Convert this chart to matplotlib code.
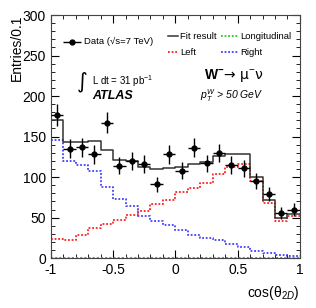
import numpy as np
import matplotlib
matplotlib.use("Agg")
from matplotlib import pyplot as plt
from matplotlib.ticker import MultipleLocator

plt.rcParams["font.family"] = ["Liberation Sans", "DejaVu Sans"]
plt.rcParams["mathtext.fontset"] = "custom"
plt.rcParams["mathtext.rm"] = "Liberation Sans"
plt.rcParams["mathtext.it"] = "Liberation Sans:italic"
plt.rcParams["mathtext.bf"] = "Liberation Sans:bold"

# cos(theta_2D) binning, 20 bins of 0.1
bin_edges = np.round(np.arange(-1.0, 1.0001, 0.1), 2)
data = [177, 135, 137, 128, 167, 114, 120, 116, 91, 128,
        108, 136, 117, 130, 115, 111, 95, 79, 56, 60]
fit_result = [171, 143, 143, 145, 133, 121, 120, 112, 110, 111,
              113, 116, 119, 126, 128, 128, 100, 72, 49, 55]
left = [24, 22, 28, 37, 42, 47, 53, 58, 67, 72,
        82, 86, 93, 104, 112, 116, 95, 68, 46, 52]
right = [146, 120, 115, 107, 88, 73, 64, 52, 46, 41,
         35, 29, 25, 22, 18, 14, 9, 6, 4, 3]
longitudinal = [0] * 20

DOT = (0, (1, 1))


def step(ax, vals, **kw):
    v = list(vals) + [vals[-1]]
    return ax.step(bin_edges, v, where="post", **kw)


fig = plt.figure(figsize=(3.16, 3.08), dpi=100)
ax = fig.add_axes([0.161, 0.162, 0.788, 0.789])

centers = (bin_edges[:-1] + bin_edges[1:]) / 2
step(ax, right, color="#4040ff", linestyle=DOT, lw=1.3)
step(ax, left, color="#ff2020", linestyle=DOT, lw=1.3)
step(ax, longitudinal, color="#20d020", linestyle=DOT, lw=1.5, clip_on=False)
step(ax, fit_result, color="#333333", lw=1.1)
ax.errorbar(centers, data, xerr=0.05, yerr=np.sqrt(data), fmt="o", color="black",
            ms=3.5, elinewidth=1.0, capsize=0, zorder=5)

ax.set_xlim(-1, 1)
ax.set_ylim(0, 300)
ax.xaxis.set_major_locator(MultipleLocator(0.5))
ax.xaxis.set_minor_locator(MultipleLocator(0.1))
ax.yaxis.set_major_locator(MultipleLocator(50))
ax.yaxis.set_minor_locator(MultipleLocator(10))
ax.tick_params(which="both", direction="in", top=True, right=True, labelsize=10)
ax.tick_params(which="major", length=6)
ax.tick_params(which="minor", length=3)
ax.xaxis.set_major_formatter(plt.FuncFormatter(lambda v, p: f"{v:g}"))
for s in ax.spines.values():
    s.set_color("#444444")

fig.text(0.03, 0.951, "Entries/0.1", rotation=90, ha="left", va="top", fontsize=10)
fig.text(0.949, 0.02, "cos(\u03b8$_{2D}$)", ha="right", va="bottom", fontsize=10)

# legend
ax.errorbar([-0.83], [267], xerr=0.07, fmt="o", color="black", ms=3.5, elinewidth=1.0)
ax.text(-0.73, 267, "Data (\u221as=7 TeV)", fontsize=6.8, va="center")
ax.plot([-0.06, 0.02], [274, 274], color="#333333", lw=1.1)
ax.text(0.04, 274, "Fit result", fontsize=6.8, va="center")
ax.plot([-0.06, 0.02], [254, 254], color="#ff2020", linestyle=DOT, lw=1.3)
ax.text(0.04, 254, "Left", fontsize=6.8, va="center")
ax.plot([0.37, 0.5], [274, 274], color="#20d020", linestyle=DOT, lw=1.3)
ax.text(0.52, 274, "Longitudinal", fontsize=6.8, va="center")
ax.plot([0.37, 0.5], [254, 254], color="#4040ff", linestyle=DOT, lw=1.3)
ax.text(0.52, 254, "Right", fontsize=6.8, va="center")

ax.text(-0.79, 218, "\u222b", fontsize=15, va="center", family="DejaVu Sans")
ax.text(-0.67, 218, r"L dt = 31 pb$^{-1}$", fontsize=7, va="center")
ax.text(-0.67, 200, "ATLAS", fontsize=9, fontweight="bold", fontstyle="italic", va="center")
ax.text(0.23, 226, "$\\mathbf{W^{-}}$\u2192 \u03bc$^{-}$\u03bd", fontsize=10, va="center",
        family=["DejaVu Sans"])
ax.text(0.2, 200, r"$p_T^W$ > 50 GeV", fontsize=7.5, fontstyle="italic", va="center")

fig.savefig("out.png", dpi=100)
